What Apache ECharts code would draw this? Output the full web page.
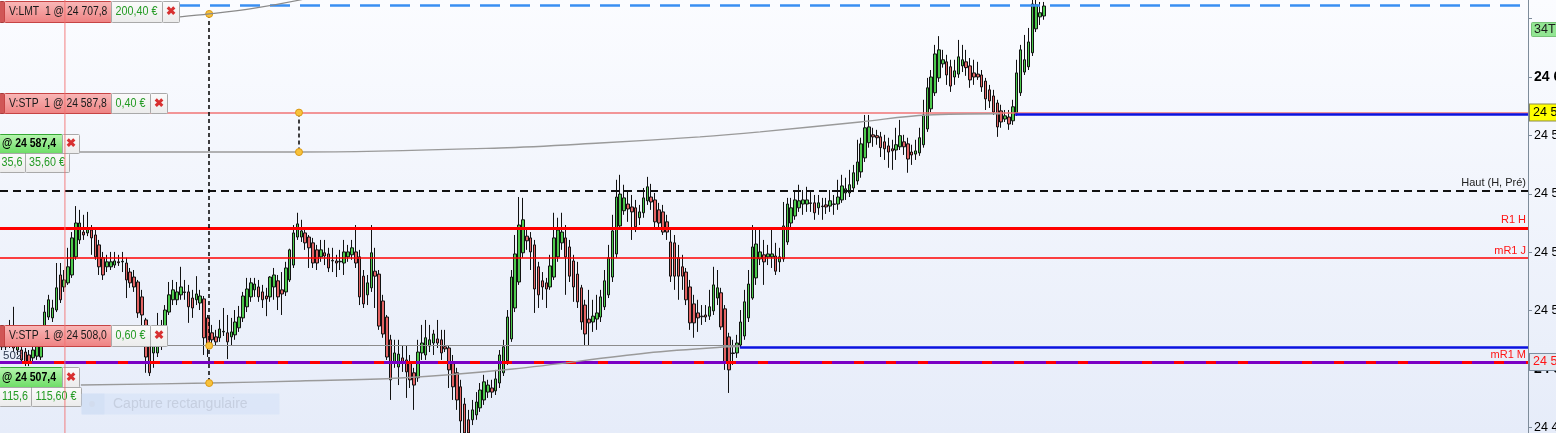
<!DOCTYPE html>
<html><head><meta charset="utf-8">
<script src="https://cdn.jsdelivr.net/npm/echarts@6/dist/echarts.min.js"></script>
<style>html,body{margin:0;padding:0;overflow:hidden;background:#fff}#c{width:1556px;height:433px}</style>
</head><body><div id="c"></div>
<script>
// ---------- candle data (price) ----------
const opens = [24512.7,24507.6,24508.2,24511.0,24506.5,24506.5,24505.8,24504.8,24503.8,24504.4,24504.1,
24514.1,24517.8,24517.5,24520.2,24532.2,24528.1,24529.5,24532.2,24538.4,24544.2,
24546.9,24546.6,24547.6,24545.9,24542.5,24538.1,24535.0,24535.0,24535.6,24536.7,
24536.7,24536.3,24533.2,24531.5,24529.8,24524.7,24516.8,24508.9,24505.5,24505.5,
24508.9,24514.4,24519.5,24523.7,24523.7,24525.4,24526.4,24526.4,24524.3,24523.7,
24522.6,24524.0,24517.5,24512.4,24511.0,24510.7,24512.7,24512.4,24511.0,24511.7,
24514.1,24517.5,24521.3,24524.7,24527.1,24528.1,24526.4,24525.0,24524.7,24528.1,
24530.2,24527.1,24526.4,24530.5,24535.6,24545.2,24545.2,24546.6,24545.2,24543.2,
24540.8,24538.4,24539.8,24539.4,24537.0,24537.0,24536.7,24536.3,24538.4,24539.1,
24540.1,24538.4,24531.8,24525.4,24527.8,24533.5,24532.5,24523.3,24517.8,24510.0,
24502.4,24500.7,24503.8,24503.1,24502.1,24498.7,24497.0,24505.5,24504.8,24507.9,
24508.9,24510.3,24510.0,24507.6,24507.2,24502.4,24498.7,24493.9,24488.0,24482.6,
24482.6,24484.3,24486.7,24489.4,24492.1,24493.5,24492.5,
24495.2,24498.7,24502.8,24510.3,24520.9,24529.8,24539.8,24545.5,24544.9,24542.5,
24535.0,24530.2,24529.5,24528.1,24531.5,24538.4,24543.2,24544.9,24541.8,24537.0,
24532.5,24527.8,24521.9,24517.1,24516.1,24517.1,24517.8,24521.3,24525.4,24531.5,
24539.4,24549.0,24554.2,24556.5,24555.5,24555.2,24551.8,24553.5,24557.6,24558.9,
24557.9,24554.5,24553.8,24550.4,24543.5,24543.2,24538.1,24535.0,24533.2,24528.1,
24522.3,24519.2,24518.1,24518.5,24518.1,24519.9,24524.3,24526.1,24520.6,24511.0,
24505.5,24505.5,24508.2,24511.3,24517.5,24524.3,24531.2,24537.7,24539.1,24538.4,
24538.4,24538.7,24536.7,24537.7,24543.5,24550.0,24552.4,24555.2,24556.5,24556.5,
24556.9,24556.9,24555.2,24555.8,24556.2,24555.8,24556.5,24556.5,24557.9,24560.3,
24560.3,24562.0,24564.4,24567.5,24572.3,24577.5,24580.2,24579.9,24579.5,24577.8,
24576.4,24575.4,24575.0,24576.1,24577.8,24577.1,24574.3,24573.6,24574.0,24576.8,
24582.2,24589.1,24594.6,24599.7,24604.5,24605.2,24603.5,24600.0,24601.0,24603.8,
24605.2,24603.8,24601.4,24601.0,24600.7,24598.6,24595.6,24593.5,24591.1,24588.4,
24585.6,24586.3,24585.0,24587.7,24594.6,24601.7,24603.5,24608.3,24616.5,24620.6,24620.9];

const closes = [24507.6,24510.7,24511.0,24507.2,24508.2,24503.1,24502.1,24502.4,24506.5,24508.2,24510.0,
24519.5,24523.7,24520.9,24527.8,24523.7,24530.5,24535.0,24544.9,24550.0,24550.0,
24545.9,24548.3,24544.9,24538.4,24535.0,24532.2,24536.7,24536.7,24537.0,24536.4,
24536.9,24530.5,24529.5,24528.1,24519.2,24518.5,24504.1,24498.7,24508.2,24508.9,
24514.4,24520.2,24525.4,24527.1,24526.4,24528.1,24526.2,24521.3,24520.9,24525.7,
24525.0,24510.7,24508.2,24510.0,24509.3,24513.7,24512.9,24509.3,24512.7,24516.1,
24517.8,24525.0,24527.4,24529.5,24529.1,24524.7,24523.7,24524.0,24531.5,24532.2,
24524.7,24525.7,24534.6,24540.8,24546.6,24549.7,24547.3,24543.2,24541.5,24536.3,
24536.3,24540.8,24538.7,24534.6,24537.2,24536.3,24536.9,24540.1,24540.1,24541.5,
24536.3,24524.7,24522.3,24529.5,24539.8,24531.8,24514.7,24512.0,24504.1,24496.3,
24505.5,24505.1,24502.4,24499.0,24496.3,24494.5,24505.8,24508.9,24510.7,24510.0,
24512.0,24508.9,24505.5,24506.9,24499.7,24493.9,24489.4,24482.2,24478.1,24478.1,
24486.0,24488.7,24492.8,24495.6,24494.5,24492.1,24496.6,
24504.8,24507.6,24517.8,24531.5,24539.4,24549.3,24551.1,24543.9,24540.1,24527.4,
24525.4,24528.1,24527.4,24535.3,24544.9,24547.6,24546.9,24538.4,24531.8,24528.1,
24523.0,24516.1,24512.0,24515.8,24518.1,24519.2,24524.7,24530.2,24538.1,24547.3,
24558.9,24559.9,24558.6,24554.8,24553.8,24548.7,24553.8,24558.6,24562.4,24557.2,
24550.4,24550.0,24546.9,24546.9,24531.8,24531.8,24531.8,24531.8,24523.7,24515.8,
24515.8,24517.5,24517.9,24517.8,24521.3,24528.8,24527.8,24514.4,24502.1,24499.7,
24505.3,24508.9,24516.1,24523.0,24529.1,24541.8,24542.8,24540.1,24536.7,24539.4,
24539.4,24533.5,24538.4,24549.0,24556.5,24555.2,24557.9,24557.6,24557.9,24557.9,
24556.7,24553.5,24556.9,24555.6,24555.5,24557.6,24556.4,24558.9,24562.7,24561.7,
24563.1,24567.2,24570.9,24577.1,24582.6,24582.9,24579.5,24579.2,24575.8,24575.4,
24574.3,24574.7,24576.8,24579.9,24576.1,24571.9,24573.3,24574.7,24579.2,24587.0,
24596.3,24600.0,24607.9,24609.3,24605.9,24600.7,24596.9,24602.1,24606.9,24605.9,
24603.2,24599.0,24600.0,24600.0,24596.6,24592.5,24591.8,24588.0,24582.9,24584.6,
24586.7,24583.9,24589.8,24601.4,24609.3,24605.9,24612.0,24625.0,24624.7,24622.0,24624.3];

const lows = [24506.5,24506.5,24507.2,24505.8,24504.8,24502.1,24501.0,24501.0,24502.4,24503.1,24503.1,
24512.7,24516.8,24516.1,24519.5,24522.6,24526.4,24528.8,24531.2,24537.4,24542.8,
24544.2,24545.5,24539.1,24537.4,24532.2,24530.5,24533.2,24533.9,24534.6,24535.3,
24533.2,24524.3,24527.8,24526.4,24517.5,24510.7,24498.7,24497.6,24500.4,24504.1,
24506.5,24512.7,24518.5,24521.9,24521.9,24523.7,24523.7,24515.8,24517.5,24521.9,
24520.2,24504.8,24504.1,24508.2,24508.2,24509.3,24511.3,24503.4,24508.2,24510.0,
24512.7,24516.1,24519.5,24523.0,24524.7,24523.0,24520.9,24518.1,24523.0,24523.7,
24520.2,24518.5,24525.0,24529.8,24534.6,24544.2,24543.5,24540.8,24534.6,24534.6,
24533.9,24536.7,24535.6,24533.2,24533.2,24531.5,24533.9,24532.2,24536.7,24537.4,
24534.6,24521.9,24520.9,24521.9,24526.4,24520.9,24513.4,24510.7,24503.1,24489.4,
24500.4,24494.5,24499.0,24490.1,24493.5,24486.0,24495.6,24503.1,24503.1,24505.8,
24504.8,24507.2,24503.1,24505.8,24493.5,24489.4,24486.0,24478.1,24475.7,24475.7,
24480.8,24482.6,24485.3,24487.7,24490.1,24490.1,24491.1,
24493.5,24497.6,24501.4,24509.3,24519.5,24528.8,24538.1,24540.8,24533.9,24519.2,
24520.9,24523.7,24520.9,24527.1,24530.5,24536.7,24540.8,24525.4,24529.8,24523.0,
24520.9,24513.4,24508.2,24508.2,24512.7,24513.4,24516.1,24520.2,24524.3,24529.8,
24538.1,24547.6,24552.8,24550.4,24544.2,24546.9,24549.3,24551.8,24556.2,24554.5,
24548.3,24547.6,24545.9,24544.2,24529.8,24527.1,24523.7,24527.1,24521.9,24513.4,
24510.7,24512.7,24515.1,24516.1,24516.8,24518.5,24521.9,24513.4,24499.7,24491.8,
24501.4,24503.8,24507.2,24510.0,24516.1,24523.7,24528.8,24535.6,24528.8,24535.6,
24534.6,24532.2,24533.2,24536.7,24542.5,24548.3,24551.1,24553.8,24552.8,24553.8,
24553.8,24551.1,24552.8,24551.1,24553.1,24553.8,24552.8,24554.5,24556.9,24557.9,
24558.9,24560.6,24563.1,24565.5,24570.9,24575.8,24576.1,24576.8,24572.6,24571.6,
24568.9,24568.2,24571.6,24575.0,24573.3,24567.2,24569.9,24571.6,24573.0,24575.8,
24581.2,24588.0,24593.5,24598.3,24603.2,24597.3,24594.9,24597.3,24599.7,24601.7,
24600.4,24596.3,24597.3,24599.0,24594.9,24588.7,24589.4,24587.0,24579.5,24582.6,
24584.6,24581.9,24583.6,24586.7,24593.5,24600.7,24602.4,24607.2,24615.4,24617.8,24619.6];

const highs = [24514.1,24513.4,24516.8,24521.3,24510.0,24508.2,24507.2,24506.5,24508.2,24510.0,24512.4,
24521.9,24525.4,24523.7,24536.3,24536.3,24533.9,24541.5,24546.9,24555.8,24554.5,
24552.8,24553.8,24549.3,24547.6,24544.2,24540.1,24539.1,24540.1,24540.1,24539.1,
24540.1,24538.1,24534.6,24533.9,24530.5,24527.1,24517.5,24510.0,24511.7,24519.2,
24516.8,24521.9,24529.8,24530.5,24529.8,24535.0,24530.5,24528.8,24527.1,24531.8,
24527.1,24525.0,24518.5,24515.1,24513.4,24516.8,24520.9,24518.5,24517.5,24520.2,
24521.6,24526.4,24531.2,24531.2,24531.2,24530.5,24528.8,24527.8,24531.8,24534.6,
24532.2,24533.2,24536.7,24541.2,24549.3,24553.5,24551.1,24548.3,24545.9,24544.9,
24542.5,24544.2,24544.2,24541.5,24541.5,24539.1,24540.8,24544.2,24542.5,24544.2,
24549.3,24540.8,24533.9,24532.2,24549.3,24541.5,24533.9,24525.4,24518.5,24511.7,
24510.0,24510.0,24508.2,24508.2,24504.8,24500.4,24510.0,24515.1,24516.8,24515.1,
24513.4,24516.8,24513.4,24513.4,24508.2,24504.8,24500.4,24496.3,24490.1,24486.0,
24489.4,24492.1,24495.2,24498.0,24496.3,24496.3,24499.7,
24506.5,24510.0,24520.2,24533.9,24545.9,24558.9,24558.6,24548.3,24546.9,24544.2,
24536.7,24533.2,24531.2,24539.1,24553.5,24551.8,24553.5,24549.3,24544.2,24539.1,
24536.7,24528.8,24523.7,24527.1,24523.7,24525.4,24527.1,24533.9,24542.5,24552.8,
24564.8,24566.5,24563.1,24561.3,24559.6,24557.9,24556.2,24562.0,24565.8,24563.4,
24560.3,24556.9,24556.2,24552.8,24548.3,24545.9,24542.5,24539.1,24534.6,24530.5,
24525.4,24523.7,24521.9,24521.9,24527.1,24535.0,24533.9,24527.8,24521.9,24512.4,
24510.0,24511.7,24520.2,24527.1,24533.9,24549.3,24548.3,24547.6,24544.2,24542.5,
24548.3,24543.2,24541.5,24557.2,24558.6,24558.6,24561.3,24563.1,24561.3,24562.4,
24560.6,24559.6,24559.6,24558.6,24558.6,24561.3,24559.6,24564.8,24566.5,24565.5,
24568.2,24569.9,24578.5,24579.2,24587.0,24587.0,24582.6,24581.9,24581.2,24580.2,
24579.2,24578.5,24582.6,24585.3,24580.2,24579.2,24576.8,24578.5,24582.6,24592.2,
24599.7,24602.4,24611.0,24614.0,24609.3,24607.6,24605.9,24605.9,24612.7,24611.0,
24609.3,24606.5,24605.9,24605.2,24602.4,24599.7,24597.3,24595.6,24592.2,24590.5,
24588.7,24588.7,24592.2,24605.9,24611.0,24614.4,24616.8,24628.0,24628.0,24625.7,24625.7];

const SLOTS = 393; // bar slots across the plot (empty slots right of last candle)
const categories = Array.from({length: SLOTS}, (_, i) => String(i));

// ---------- horizontal levels (price) ----------
const levels = {
  lastDash: 24624.5, topQuote: 24626.7, lmtCurve: 24621.6,
  stp1: 24587.8, entry1: 24587.4, haut: 24561.0, r1h: 24548.3, mr1j: 24538.0,
  stp2: 24508.0, entry2: 24507.4, mr1m: 24502.4, lowCurve: 24495.2, midCurve: 24574.3
};
// bar positions (slot index) of verticals / segment starts
const marks = { pink: 16.2, dashA: 53.3, dashB: 76.4, blueLow: 189.8, blueHigh: 260.6 };

// order curves (slot index, price)
const curveTop = [[45.8,24620.6],[53.3,24621.6],[65,24623.6],[76.7,24626.4],[90,24630.5]];
const curveMid = [[19.6,24574.3],[76.4,24574.3],[128.1,24575.7],[153.8,24577.4],[179.5,24579.5],[195.0,24581.2],[220.7,24584.6],[237.9,24587.0],[256.7,24587.4]];
const curveLow = [[20.3,24494.5],[53.3,24495.2],[76.7,24495.9],[102.4,24496.9],[131.4,24500.0],[165.9,24505.5],[186.5,24507.6],[189.8,24507.7]];
const dots = [[53.3,24621.6],[53.3,24508.0],[53.3,24495.2],[76.4,24587.8],[76.4,24574.3]];
// pink cursor line: spans the visible price range at one bar position
const cursorLine = [[16.2,24460],[16.2,24640]];

const yTicks = { min: 24460, max: 24640, step: 20, hidden: [24620] };

const FONT = '"Liberation Sans", Arial, sans-serif';
const fmt = v => { const s = v.toFixed(1).replace('.', ','); return s.slice(0,2) + ' ' + s.slice(2); };

const chart = echarts.init(document.getElementById('c'), null, {renderer:'canvas', width:1556, height:433});

function boxLabel(text, color, bg, border) {
  return { show:true, position:'end', formatter:text, color, backgroundColor:bg, borderColor:border,
           borderWidth:1, padding:[2,4,1,3], fontSize:12.5, fontFamily:FONT, distance:2 };
}
function sideLabel(text, color) {
  return { show:true, position:'insideEndTop', formatter:text, color, fontSize:11, fontFamily:FONT, distance:[2,2] };
}
const none = { show:false };
const boxBg = '#e3e8f0', boxBorder = '#7d8ea0', red = '#ff1414';

const lowerMarks = [
  { yAxis: levels.lastDash, lineStyle:{color:'#3a8ff2', width:2.5, type:[20,10]}, label:none },
  { yAxis: levels.topQuote, lineStyle:{opacity:0}, label: boxLabel(fmt(levels.topQuote), '#000', '#f2a93b', '#8c6a30') },
  { yAxis: levels.lmtCurve, lineStyle:{opacity:0}, label: boxLabel(fmt(levels.lmtCurve), '#000', boxBg, boxBorder) },
  { yAxis: levels.stp1, lineStyle:{color:'#f07474', width:1.5, type:'solid'}, label: boxLabel(fmt(levels.stp1), '#000', '#ffff00', '#8a8a50') },
  [ {coord:[marks.blueHigh, levels.entry1], lineStyle:{color:'#0a12e0', width:2.5, type:'solid'}, label:none},
    {coord:[SLOTS - 0.5, levels.entry1]} ],
  { yAxis: levels.haut, lineStyle:{color:'#111', width:2, type:[8,5]}, label: sideLabel('Haut (H, Pré)', '#222') },
  { yAxis: levels.haut, lineStyle:{opacity:0}, label: boxLabel(fmt(levels.haut), '#000', boxBg, boxBorder) },
  { yAxis: levels.r1h, lineStyle:{color:'#ff0000', width:3, type:'solid'}, label: sideLabel('R1 H', red) },
  { yAxis: levels.r1h, lineStyle:{opacity:0}, label: boxLabel(fmt(levels.r1h), red, boxBg, boxBorder) },
  { yAxis: levels.mr1j, lineStyle:{color:'#ff0000', width:1.5, type:'solid'}, label: sideLabel('mR1 J', red) },
  { yAxis: levels.mr1j, lineStyle:{opacity:0}, label: boxLabel(fmt(levels.mr1j), red, boxBg, boxBorder) },
  [ {coord:[-0.5, levels.stp2], lineStyle:{color:'#8c8c8c', width:1, type:'solid'}, label:none},
    {coord:[marks.blueLow, levels.stp2]} ],
  [ {coord:[marks.blueLow, levels.entry2], lineStyle:{color:'#0a12e0', width:2.5, type:'solid'}, label:none},
    {coord:[SLOTS - 0.5, levels.entry2]} ],
  { yAxis: levels.mr1m, lineStyle:{color:'#ff0000', width:3, type:'solid'}, label: sideLabel('mR1 M', red) },
  { yAxis: levels.mr1m, lineStyle:{color:'#7a00c4', width:3, type:[22,10]}, label: boxLabel(fmt(levels.mr1m), red, boxBg, boxBorder) },
  [ {coord:[marks.dashA, levels.lmtCurve], lineStyle:{color:'#000', width:1.5, type:[4,3]}, label:none},
    {coord:[marks.dashA, levels.lowCurve]} ],
  [ {coord:[marks.dashB, levels.stp1], lineStyle:{color:'#000', width:1.5, type:[4,3]}, label:none},
    {coord:[marks.dashB, levels.midCurve]} ]
];

const redGrad = () => new echarts.graphic.LinearGradient(0,0,0,1,[{offset:0,color:'#f9b9b9'},{offset:1,color:'#ee8181'}]);
const greenGrad = () => new echarts.graphic.LinearGradient(0,0,0,1,[{offset:0,color:'#b8f6b0'},{offset:1,color:'#6bdc64'}]);
const greyGrad = () => new echarts.graphic.LinearGradient(0,0,0,1,[{offset:0,color:'#fbfbfb'},{offset:1,color:'#ebebeb'}]);

function R(x,y,w,h,fill,stroke,z){ return {type:'rect', shape:{x:x+0.5,y:y+0.5,width:w,height:h,r:1}, style:{fill, stroke:stroke||null, lineWidth:1}, z:z||6, silent:true}; }
function T(x,y,text,fill,font,align,sx){ return {type:'text', x, y, scaleX: sx||1, style:{text, fill, font, align:align||'left', textAlign:align||'left', verticalAlign:'middle', textVerticalAlign:'middle'}, z:7, silent:true}; }
const F = '12.5px ' + FONT, FB = 'bold 12.5px ' + FONT, FX = 'bold 12px ' + FONT, FP = '12.5px ' + FONT;
const G = '#249b24';

function redTicket(y, h, label, pl, plW) {
  const xr = 111 + plW;
  return [
    R(-1, y, 5, h, '#d05656', '#a83a3a'),
    R(4, y, 107, h, redGrad(), '#c64444'),
    T(9, y + h/2 + 0.5, label, '#1a1a1a', F, 'left', 0.83),
    R(111, y, plW, h, greyGrad(), '#a9a9a9'),
    T(111 + plW/2, y + h/2 + 0.5, pl, G, FP, 'center', 0.86),
    R(xr, y, 17, h, greyGrad(), '#a9a9a9'),
    T(xr + 8.5, y + h/2 + 0.5, '✖', '#d83030', FX, 'center')
  ];
}
function greenTicket(y, h, label, a, aW, b, bW) {
  return [
    R(-1, y, 63, h, greenGrad(), '#35a835'),
    T(2, y + h/2 + 0.5, label, '#000', FB, 'left', 0.84),
    R(62, y, 17, h, greyGrad(), '#a9a9a9'),
    T(70.5, y + h/2 + 0.5, '✖', '#d83030', FX, 'center'),
    R(-1, y + h, aW, 19, greyGrad(), '#a9a9a9'),
    T(-1 + aW/2, y + h + 10, a, G, FP, 'center', 0.86),
    R(-1 + aW, y + h, bW, 19, greyGrad(), '#a9a9a9'),
    T(-1 + aW + bW/2, y + h + 10, b, G, FP, 'center', 0.86)
  ];
}

const graphics = [
  {type:'rect', shape:{x:0,y:0,width:1556,height:433}, z:-100, silent:true,
   style:{fill:new echarts.graphic.LinearGradient(0,0,0,1,[{offset:0,color:'#fbfcff'},{offset:1,color:'#e6ecf9'}])}},
  ...redTicket(1, 21, 'V:LMT  1 @ 24 707,8', '200,40 €', 51),
  ...redTicket(93, 20, 'V:STP  1 @ 24 587,8', '0,40 €', 39),
  ...greenTicket(134, 19, '@ 24 587,4', '35,6', 26, '35,60 €', 44),
  ...redTicket(325, 21, 'V:STP  1 @ 24 508,0', '0,60 €', 39),
  ...greenTicket(367, 20, '@ 24 507,4', '115,6', 32, '115,60 €', 50),
  T(3, 356, '502', '#2f3b52', '11.5px ' + FONT),
  R(81, 393, 198, 21, 'rgba(206,222,246,0.45)', null),
  R(81, 393, 23, 21, 'rgba(198,214,240,0.35)', null),
  {type:'circle', shape:{cx:92, cy:404, r:3}, style:{fill:'#d2dcee'}, z:7, silent:true},
  T(113, 404, 'Capture rectangulaire', '#c6cfe0', '14px ' + FONT),
  R(1531, 22, 26, 14, '#93e693', '#78c278'),
  T(1534, 29.5, '34T', '#1a1a1a', '12.5px ' + FONT)
];

const option = {
  animation: false,
  backgroundColor: 'transparent',
  grid: { left: 0, right: 28, top: -39.8, bottom: -52.8, containLabel: false, outerBoundsMode: 'none' },
  xAxis: [
    { type:'category', data: categories, show:false, boundaryGap:true },
    { type:'value', min:-0.5, max:SLOTS - 0.5, show:false }
  ],
  yAxis: {
    type:'value', position:'right', min:yTicks.min, max:yTicks.max, interval:yTicks.step, scale:false,
    axisLine:{show:true, onZero:false, lineStyle:{color:'#7e8c9a', width:1}},
    axisTick:{show:true, length:4, lineStyle:{color:'#7e8c9a'}},
    splitLine:{show:false},
    axisLabel:{
      margin:6, color:'#000', fontSize:12.5, fontFamily:FONT,
      formatter: v => {
        if (yTicks.hidden.includes(v)) return '';
        const s = '24 ' + String(v).slice(2);
        return v % 100 === 0 ? '{b|' + s + '}' : s;
      },
      rich:{ b:{fontWeight:'bold', fontSize:14, fontFamily:FONT, color:'#000'} }
    }
  },
  graphic: { elements: graphics },
  series: [
    {
      type:'candlestick', xAxisIndex:0, yAxisIndex:0, z:2, barWidth:3,
      data: opens.map((o, i) => [o, closes[i], lows[i], highs[i]]),
      itemStyle:{ color:'#4dca4d', color0:'#e36464', borderColor:'#111', borderColor0:'#111', borderWidth:1 }
    },
    {
      type:'line', xAxisIndex:1, yAxisIndex:0, z:4, clip:false, data: curveMid, smooth:0.35, symbol:'none',
      lineStyle:{color:'#9a9a9a', width:1.4},
      markLine:{ silent:true, z:3, symbol:['none','none'], animation:false, data: lowerMarks }
    },
    {
      type:'line', xAxisIndex:1, yAxisIndex:0, z:4, clip:false, data: curveLow, smooth:0.35, symbol:'none',
      lineStyle:{color:'#9a9a9a', width:1.4}
    },
    {
      type:'line', xAxisIndex:1, yAxisIndex:0, z:10, clip:true, data: curveTop, smooth:0.35, symbol:'none',
      lineStyle:{color:'#8a8a8a', width:1.2}
    },
    {
      type:'line', xAxisIndex:1, yAxisIndex:0, z:10, clip:false, data: cursorLine, symbol:'none',
      color:'#f27070', lineStyle:{color:'#f27070', width:1, opacity:0.9}
    },
    {
      type:'scatter', xAxisIndex:1, yAxisIndex:0, z:8, data: dots, symbolSize:7,
      itemStyle:{ color:'#f8c23b', borderColor:'#db9914', borderWidth:1, opacity:1 }
    }
  ]
};
chart.setOption(option);
</script></body></html>
